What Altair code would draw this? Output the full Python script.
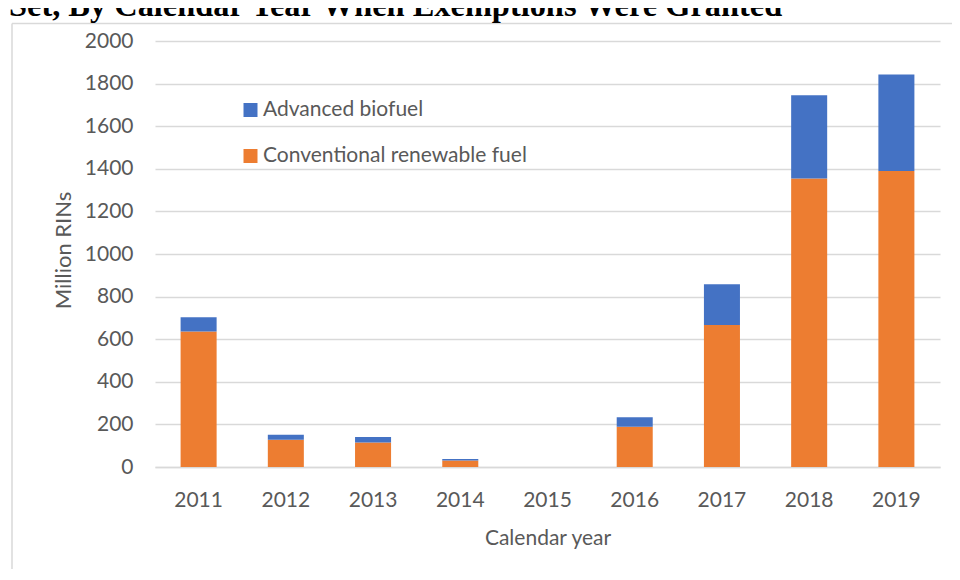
import altair as alt
import pandas as pd

years = ["2011", "2012", "2013", "2014", "2015", "2016", "2017", "2018", "2019"]
conventional = [636, 128, 115, 31, 0, 189, 667, 1355, 1390]
advanced = [67, 23, 26, 7, 0, 45, 191, 390, 453]
series_names = ["Advanced biofuel", "Conventional renewable fuel"]
series_colors = ["#4472C4", "#ED7D31"]
y_ticks = [0, 200, 400, 600, 800, 1000, 1200, 1400, 1600, 1800, 2000]
title_text = "Set, By Calendar Year When Exemptions Were Granted"

rows = []
for y, c, a in zip(years, conventional, advanced):
    rows.append({"year": y, "series": series_names[1], "value": c, "ord": 0})
    rows.append({"year": y, "series": series_names[0], "value": a, "ord": 1})
df = pd.DataFrame(rows)

FONT = "Lato"
GREY = "#595959"

bars = alt.Chart(df).mark_bar().encode(
    x=alt.X("year:N", sort=years,
            scale=alt.Scale(paddingInner=0.587, paddingOuter=0.2935),
            axis=alt.Axis(title="Calendar year", labelAngle=0, ticks=False, tickSize=0,
                          domain=True, domainColor="#D9D9D9", domainWidth=1.5,
                          labelPadding=39, labelBaseline="alphabetic",
                          labelFont=FONT, labelFontSize=21, labelColor=GREY,
                          titleFont=FONT, titleFontSize=21, titleColor=GREY,
                          titleFontWeight="normal", titleBaseline="alphabetic",
                          titleY=77.5, grid=False)),
    y=alt.Y("value:Q", stack="zero",
            scale=alt.Scale(domain=[0, 2000], nice=False),
            axis=alt.Axis(title="Million RINs", values=y_ticks, format="d",
                          ticks=False, tickSize=0,
                          domain=False, grid=True, gridColor="#D9D9D9", gridWidth=1.5,
                          labelPadding=22, labelFont=FONT, labelFontSize=21,
                          labelColor=GREY, titleFont=FONT, titleFontSize=22,
                          titleColor=GREY, titleFontWeight="normal",
                          titleBaseline="alphabetic", titleAngle=-90,
                          titleX=-85, titleY=209)),
    color=alt.Color("series:N",
                    scale=alt.Scale(domain=series_names, range=series_colors),
                    legend=alt.Legend(title=None, orient="none", legendX=85, legendY=58.5,
                                      symbolType="square", symbolSize=196,
                                      symbolStrokeWidth=0, labelFont=FONT,
                                      labelFontSize=21, labelColor=GREY,
                                      labelOffset=2, rowPadding=24, padding=0,
                                      labelLimit=400)),
    order=alt.Order("ord:Q", sort="ascending"),
)

one = pd.DataFrame({"k": [0]})

border_left = alt.Chart(one).mark_rule(color="#D9D9D9", strokeWidth=1.5).encode(
    x=alt.value(-143), y=alt.value(-17.5), y2=alt.value(540))
border_top = alt.Chart(one).mark_rule(color="#D9D9D9", strokeWidth=1.5).encode(
    x=alt.value(-143), x2=alt.value(800), y=alt.value(-17.5))
title_mark = alt.Chart(one).mark_text(
    align="left", baseline="alphabetic", font="Liberation Serif",
    fontSize=32.4, fontWeight="bold", color="black").encode(
    x=alt.value(-146), y=alt.value(-25), text=alt.value(title_text))

chart = alt.layer(border_left, border_top, title_mark, bars).properties(
    width=785, height=426,
    autosize=alt.AutoSizeParams(type="none"),
    padding={"left": 147, "top": 33, "right": 12, "bottom": 102},
    background="white",
).configure_view(stroke=None)

chart.save("out.html", embed_options={"renderer": "svg", "actions": False})
